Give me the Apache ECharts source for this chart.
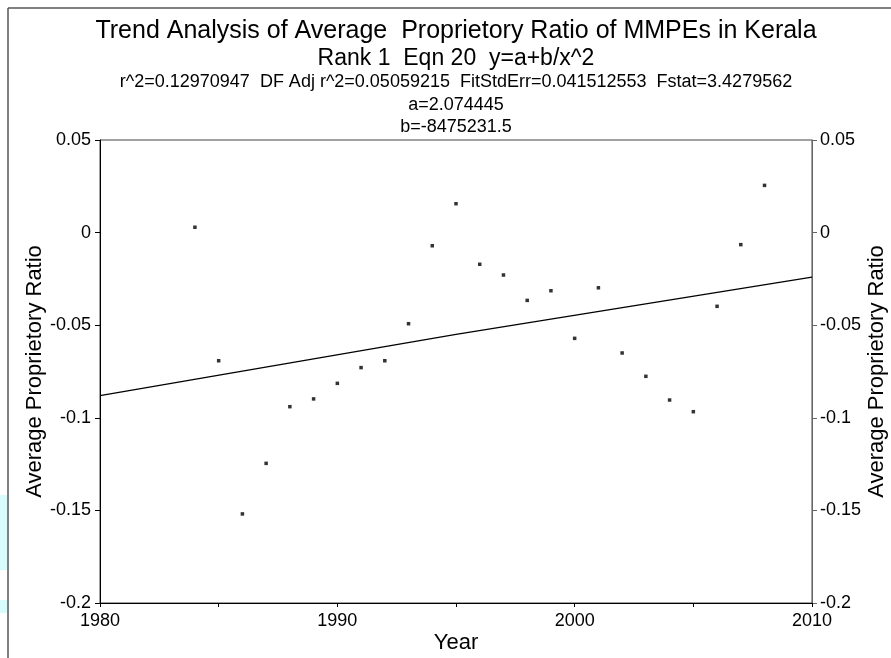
<!DOCTYPE html>
<html>
<head>
<meta charset="utf-8">
<script src="https://cdn.jsdelivr.net/npm/echarts@6/dist/echarts.min.js"></script>
<style>
html,body{margin:0;padding:0;background:#fff;overflow:hidden;}
#chart{width:891px;height:658px;}
</style>
</head>
<body>
<div id="chart"></div>
<script>
// ---- data ----
const years = [1984,1985,1986,1987,1988,1989,1990,1991,1992,1993,1994,1995,1996,1997,1998,1999,2000,2001,2002,2003,2004,2005,2006,2007,2008];
const ratios = [0.0029,-0.0692,-0.1519,-0.1246,-0.0940,-0.0898,-0.0814,-0.0729,-0.0692,-0.0492,-0.0071,0.0156,-0.0171,-0.0229,-0.0366,-0.0314,-0.0571,-0.0298,-0.0650,-0.0776,-0.0904,-0.0967,-0.0398,-0.0065,0.0255];
const fitYears = [1980, 1995, 2010];
const fitValues = [-0.088, -0.055, -0.024];
const titleLines = [
  'Trend Analysis of Average  Proprietory Ratio of MMPEs in Kerala',
  'Rank 1  Eqn 20  y=a+b/x^2',
  'r^2=0.12970947  DF Adj r^2=0.05059215  FitStdErr=0.041512553  Fstat=3.4279562',
  'a=2.074445',
  'b=-8475231.5'
];
const xName = 'Year';
const yName = 'Average Proprietory Ratio';

const FONT = '"Liberation Sans", Arial, sans-serif';
const scatterData = years.map((y, i) => [y, ratios[i]]);
const fitData = fitYears.map((y, i) => [y, fitValues[i]]);

const lineY = [31, 59, 82, 105, 127];
const lineSize = [25, 23, 18, 18, 18];
const textEls = titleLines.map((t, i) => ({
  type: 'text', x: 456, y: lineY[i], z: 10,
  style: { text: t, font: lineSize[i] + 'px ' + FONT, fill: '#000',
           align: 'center', verticalAlign: 'middle',
           textAlign: 'center', textVerticalAlign: 'middle' }
}));

const chart = echarts.init(document.getElementById('chart'), null, {renderer: 'canvas'});
const yAxisBase = {
  type: 'value', min: -0.2, max: 0.05, interval: 0.05,
  nameLocation: 'middle', nameRotate: 90, nameMoveOverlap: false,
  nameTextStyle: { fontFamily: FONT, fontSize: 22, color: '#000' },
  splitLine: { show: false },
  axisLabel: { fontFamily: FONT, fontSize: 18, color: '#000' }
};
chart.setOption({
  animation: false,
  backgroundColor: '#fff',
  grid: { left: 100, right: 79, top: 140, bottom: 55, show: true, borderColor: '#444', borderWidth: 1,
          containLabel: false, outerBoundsMode: 'none' },
  graphic: [
    { type: 'line', shape: { x1: 8, y1: 8, x2: 891, y2: 8 }, style: { stroke: '#555', lineWidth: 1.5 } },
    { type: 'line', shape: { x1: 8, y1: 8, x2: 8, y2: 658 }, style: { stroke: '#555', lineWidth: 1.5 } },
    { type: 'rect', shape: { x: 0, y: 495, width: 7, height: 75 }, style: { fill: '#d8fbfb' } },
    { type: 'rect', shape: { x: 0, y: 600, width: 7, height: 13 }, style: { fill: '#d8fbfb' } }
  ].concat(textEls),
  xAxis: {
    type: 'value', min: 1980, max: 2010, interval: 10,
    name: xName, nameLocation: 'middle', nameGap: 29, nameMoveOverlap: false,
    nameTextStyle: { fontFamily: FONT, fontSize: 22, color: '#000' },
    axisLine: { onZero: false, lineStyle: { color: '#000', width: 1 } },
    axisTick: { show: true, length: 4, lineStyle: { color: '#000' } },
    minorTick: { show: true, splitNumber: 2, length: 4, lineStyle: { color: '#000' } },
    splitLine: { show: false },
    axisLabel: { fontFamily: FONT, fontSize: 18, color: '#000', margin: 9, formatter: v => String(v) }
  },
  yAxis: [
    Object.assign({}, yAxisBase, {
      position: 'left', name: yName, nameGap: 54,
      axisLine: { show: true, onZero: false, lineStyle: { color: '#000', width: 1 } },
      axisTick: { show: true, length: 5, lineStyle: { color: '#000' } },
      axisLabel: Object.assign({}, yAxisBase.axisLabel, { margin: 9 })
    }),
    Object.assign({}, yAxisBase, {
      position: 'right', name: yName, nameGap: 54,
      axisLine: { show: true, onZero: false, lineStyle: { color: '#666', width: 1 } },
      axisTick: { show: true, length: 5, lineStyle: { color: '#666' } },
      axisLabel: Object.assign({}, yAxisBase.axisLabel, { margin: 8 })
    })
  ],
  series: [
    {
      type: 'line', data: fitData, showSymbol: false, symbol: 'none',
      lineStyle: { color: '#000', width: 1.2 }, silent: true, z: 3
    },
    {
      type: 'scatter', data: scatterData, symbol: 'rect', symbolSize: 3.5,
      itemStyle: { color: '#000' }, z: 4
    }
  ]
});
</script>
</body>
</html>
